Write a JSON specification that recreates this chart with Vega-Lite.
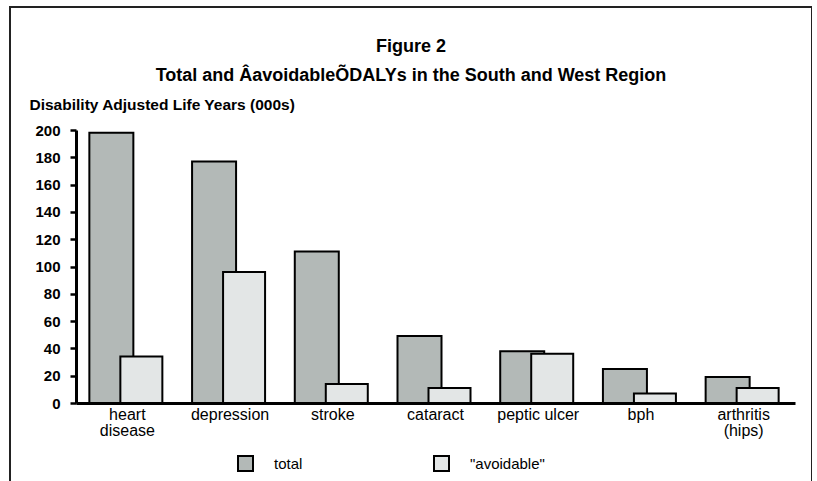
{
  "$schema": "https://vega.github.io/schema/vega-lite/v6.json",
  "autosize": {"type": "none"},
  "width": 802,
  "height": 480,
  "padding": {"left": 10, "top": 7, "right": 0, "bottom": 0},
  "background": "white",
  "config": {
    "view": {"stroke": "#222", "strokeWidth": 2},
    "font": "Liberation Sans"
  },
  "title": {
    "text": "Figure 2",
    "subtitle": "Total and ÂavoidableÕDALYs in the South and West Region",
    "anchor": "middle",
    "frame": "group",
    "orient": "top",
    "offset": -78,
    "font": "Liberation Sans",
    "fontSize": 18,
    "fontWeight": "bold",
    "color": "black",
    "subtitleFont": "Liberation Sans",
    "subtitleFontSize": 18,
    "subtitleFontWeight": "bold",
    "subtitleColor": "black",
    "subtitlePadding": 11
  },
  "data": {
    "values": [
      {"cause": "heart disease", "total": 198, "avoidable": 34},
      {"cause": "depression", "total": 177, "avoidable": 96},
      {"cause": "stroke", "total": 111, "avoidable": 14},
      {"cause": "cataract", "total": 49, "avoidable": 11},
      {"cause": "peptic ulcer", "total": 38, "avoidable": 36},
      {"cause": "bph", "total": 25, "avoidable": 7},
      {"cause": "arthritis (hips)", "total": 19, "avoidable": 11}
    ]
  },
  "encoding": {
    "x": {
      "field": "cause",
      "type": "nominal",
      "sort": null,
      "scale": {"range": [66, 785], "paddingInner": 0, "paddingOuter": 0},
      "axis": {
        "orient": "bottom",
        "offset": -84,
        "title": null,
        "domainColor": "black",
        "domainWidth": 3,
        "ticks": false,
        "labelAngle": 0,
        "labelFont": "Liberation Sans",
        "labelFontSize": 16,
        "labelColor": "black",
        "labelPadding": 3,
        "labelLineHeight": 16,
        "labelExpr": "datum.label == 'heart disease' ? ['heart', 'disease'] : datum.label == 'arthritis (hips)' ? ['arthritis', '(hips)'] : datum.label"
      }
    }
  },
  "layer": [
    {
      "mark": {"type": "bar", "width": 44, "xOffset": -16, "stroke": "black", "strokeWidth": 2},
      "encoding": {
        "y": {
          "field": "total",
          "type": "quantitative",
          "title": "Disability Adjusted Life Years (000s)",
          "scale": {"domain": [0, 200], "range": [396, 123], "nice": false},
          "axis": {
            "offset": -66,
            "grid": false,
            "values": [0, 20, 40, 60, 80, 100, 120, 140, 160, 180, 200],
            "domainColor": "black",
            "domainWidth": 3,
            "tickColor": "black",
            "tickWidth": 2.5,
            "tickSize": 6,
            "labelFont": "Liberation Sans",
            "labelFontSize": 15,
            "labelFontWeight": "bold",
            "labelColor": "black",
            "labelPadding": 10,
            "titleAngle": 0,
            "titleAlign": "left",
            "titleBaseline": "alphabetic",
            "titleX": -47,
            "titleY": 102,
            "titleFont": "Liberation Sans",
            "titleFontSize": 15.5,
            "titleFontWeight": "bold",
            "titleColor": "black"
          }
        },
        "color": {
          "datum": "total",
          "scale": {"domain": ["total", "\"avoidable\""], "range": ["#b3b9b7", "#e3e6e6"]},
          "legend": {
            "orient": "none",
            "legendX": 227,
            "legendY": 448,
            "direction": "horizontal",
            "title": null,
            "columnPadding": 127,
            "labelOffset": 20,
            "symbolType": "square",
            "symbolSize": 225,
            "symbolStrokeColor": "black",
            "symbolStrokeWidth": 2,
            "labelFont": "Liberation Sans",
            "labelFontSize": 15,
            "labelColor": "black"
          }
        }
      }
    },
    {
      "mark": {"type": "bar", "width": 42, "xOffset": 14, "stroke": "black", "strokeWidth": 2},
      "encoding": {
        "y": {
          "field": "avoidable",
          "type": "quantitative",
          "title": "Disability Adjusted Life Years (000s)"
        },
        "color": {"datum": "\"avoidable\""}
      }
    }
  ]
}
